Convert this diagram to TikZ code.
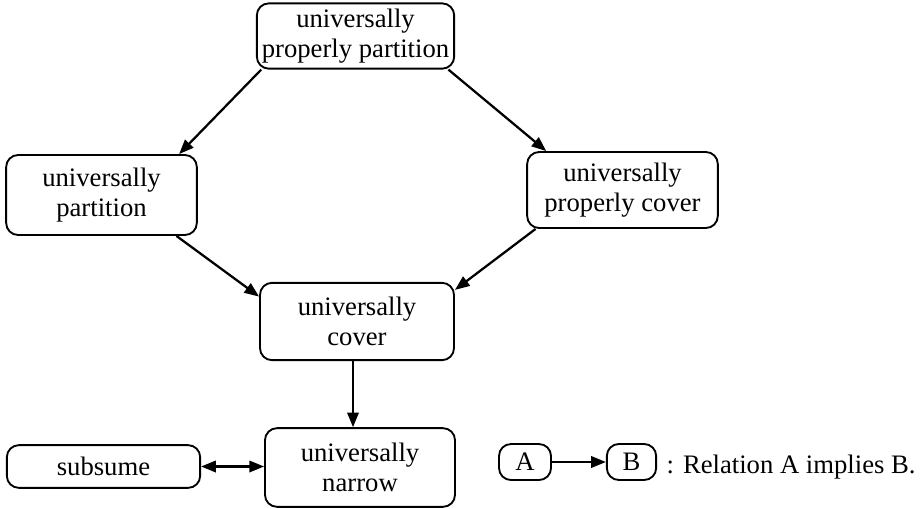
\documentclass[tikz,border=0pt]{standalone}
\usepackage{fontspec}
\setmainfont{Liberation Serif}
\usetikzlibrary{arrows.meta, positioning}

\begin{document}
\begin{tikzpicture}[x=0.75pt, y=-0.75pt,
        box/.style={draw, rectangle, rounded corners=9pt, line width=1.4pt, minimum width=145pt, align=center, inner sep=1pt, font=\fontsize{20}{22}\selectfont},
        arrow/.style={-{Triangle[length=11pt, width=8.5pt]}, line width=1.7pt}]

        \useasboundingbox (0,0) rectangle (924,508);

        % Top
        \node[box, minimum width=148pt, minimum height=49pt] (upp) at (355.5,36) {universally\\properly partition};

        % Left
        \node[box, minimum width=143pt, minimum height=60pt] (up) at (101.5,195) {universally\\partition};

        % Right
        \node[box, minimum width=143pt, minimum height=57pt] (upc) at (622.5,190) {universally\\properly cover};

        % Middle
        \node[box, minimum width=145.5pt, minimum height=58pt] (uc) at (357,321.5) {universally\\cover};

        % Bottom
        \node[box, minimum width=142.5pt, minimum height=59pt] (un) at (360,467.5) {universally\\narrow};
        \node[box, minimum width=145pt, minimum height=32pt] (sub) at (103.5,466.5) {subsume};

        % Legend
        \node[box, minimum width=39pt, minimum height=27pt] (la) at (525,462) {A};
        \node[box, minimum width=37pt, minimum height=27pt] (lb) at (631.5,462) {B};
        \node[anchor=west, font=\fontsize{20}{22}\selectfont] (ltext) at (662,467) {: Relation A implies B.};

        % Arrows
        \draw[arrow] ([xshift=4pt]upp.south west) -- ([xshift=-14pt]up.north east);
        \draw[arrow] ([xshift=-5pt]upp.south east) -- ([xshift=15pt]upc.north west);
        \draw[arrow] ([xshift=-16pt]up.south east) -- ([yshift=-11pt]uc.north west);
        \draw[arrow] ([xshift=7pt]upc.south west) -- ([yshift=-6pt]uc.north east);
        \draw[arrow] ([xshift=-3pt]uc.south) -- ([xshift=-3pt]uc.south |- un.north);
        \draw[arrow, {Triangle[length=11pt, width=8.5pt]}-{Triangle[length=11pt, width=8.5pt]}] (sub) -- (sub -| un.west);
        \draw[arrow] (la) -- (lb);

    \end{tikzpicture}
\end{document}
